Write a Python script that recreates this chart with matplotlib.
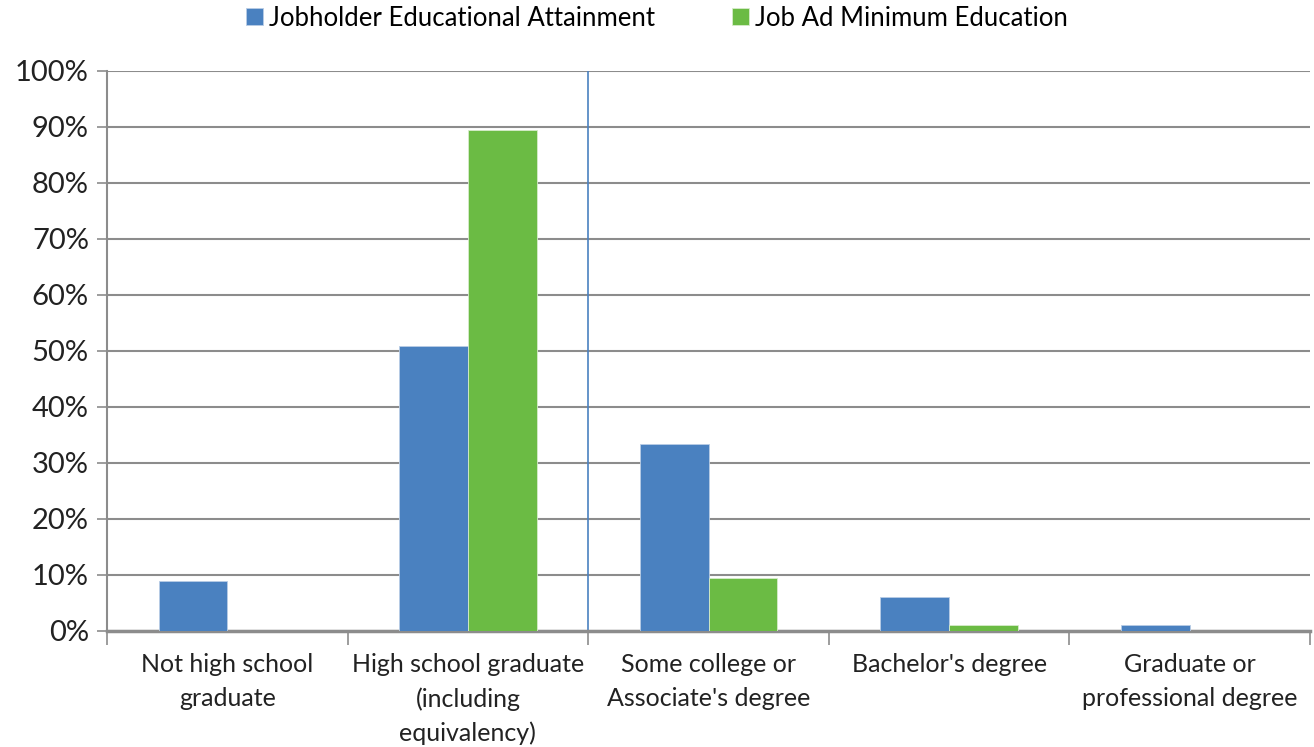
import numpy as np
import matplotlib.pyplot as plt
from matplotlib.ticker import MultipleLocator, FixedLocator, FuncFormatter

categories = [
    "Not high school\ngraduate",
    "High school graduate\n(including\nequivalency)",
    "Some college or\nAssociate's degree",
    "Bachelor's degree",
    "Graduate or\nprofessional degree",
]
jobholder = [8.9, 50.9, 33.4, 6.1, 1.1]
job_ad = [0.0, 89.5, 9.5, 1.1, 0.0]
series_names = ["Jobholder Educational Attainment", "Job Ad Minimum Education"]

blue = "#4a81c0"
green = "#6bbb44"
grid_grey = "#8c8c8c"

plt.rcParams["font.family"] = ["Lato", "DejaVu Sans"]

fig = plt.figure(figsize=(13.14, 7.47), dpi=100)
ax = fig.add_axes([0.0814, 0.1553, 0.9156, 0.7497])

x = np.arange(len(categories))
w = 1 / 3.5
ax.bar(x - w / 2, jobholder, w, color=blue, edgecolor="#b9cde5", linewidth=0.6,
       label=series_names[0], zorder=3)
ax.bar(x + w / 2, job_ad, w, color=green, edgecolor="#d7eccb", linewidth=0.6,
       label=series_names[1], zorder=3)

# divider between high school and college categories
ax.axvline(1.5, color=blue, linewidth=1.2, zorder=2)

ax.set_xlim(-0.5, len(categories) - 0.5)
ax.set_ylim(0, 100)
ax.yaxis.set_major_locator(MultipleLocator(10))
ax.yaxis.set_major_formatter(FuncFormatter(lambda v, p: f"{v:.0f}%"))
ax.grid(axis="y", color=grid_grey, linewidth=1.5, zorder=0)

ax.set_xticks(x)
ax.set_xticklabels(categories, fontsize=18, color="#222222", linespacing=1.55)
ax.xaxis.set_minor_locator(FixedLocator(np.arange(-0.5, len(categories), 1.0)))
ax.tick_params(axis="x", which="major", length=0, pad=16)
ax.tick_params(axis="x", which="minor", length=10, width=1.2, color=grid_grey)
ax.tick_params(axis="y", length=7, width=1.2, color=grid_grey, labelsize=21,
               labelcolor="#222222", pad=6)

for side in ["top", "right"]:
    ax.spines[side].set_visible(False)
ax.spines["left"].set_color(grid_grey)
ax.spines["left"].set_linewidth(1.5)
ax.spines["bottom"].set_color(grid_grey)
ax.spines["bottom"].set_linewidth(2.5)

ax.legend(loc="center", bbox_to_anchor=(0.5, (747 - 18) / 747), bbox_transform=fig.transFigure,
          ncol=2, frameon=False, fontsize=18.5, handlelength=0.65, handleheight=0.65,
          handletextpad=0.25, columnspacing=3.0)

fig.savefig("out.png", dpi=100)
